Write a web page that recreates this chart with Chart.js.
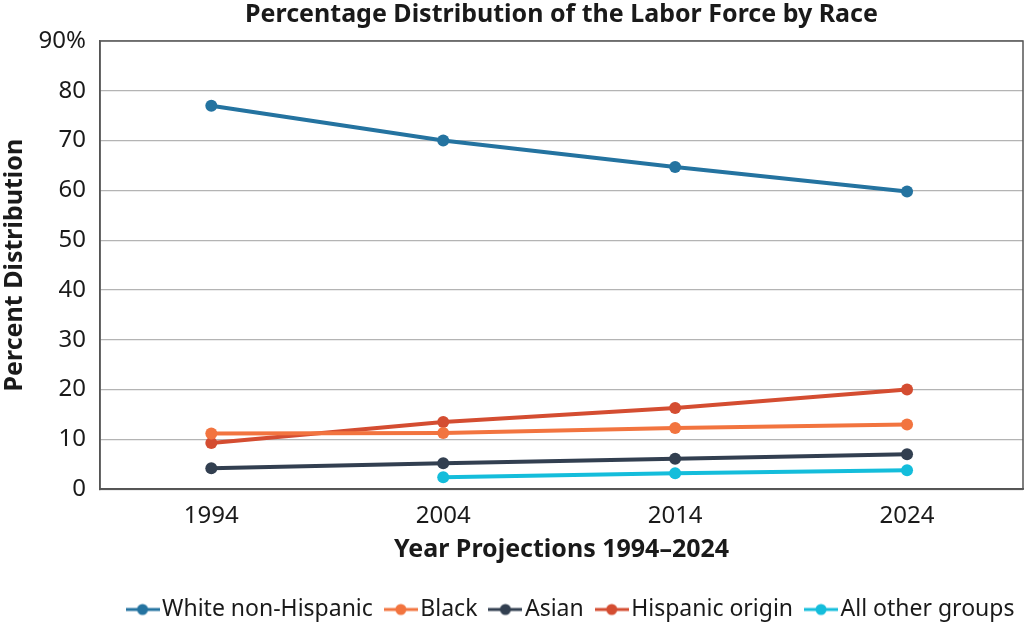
<!DOCTYPE html>
<html>
<head>
<meta charset="utf-8">
<script src="https://cdn.jsdelivr.net/npm/chart.js@4.4.0/dist/chart.umd.min.js"></script>
<style>
html,body{margin:0;padding:0;background:#fff;overflow:hidden;}
#wrap{width:1024px;height:625px;position:relative;}
#c{display:block;}
</style>
</head>
<body>
<div id="wrap"><canvas id="c" width="1024" height="625"></canvas></div>
<script>
const years = [1994, 2004, 2014, 2024];
const whiteNonHispanic = [77.0, 70.0, 64.7, 59.8];
const black = [11.2, 11.3, 12.3, 13.0];
const asian = [4.2, 5.2, 6.1, 7.0];
const hispanicOrigin = [9.3, 13.5, 16.3, 20.0];
const allOtherGroups = [null, 2.4, 3.2, 3.8];
const seriesNames = ['White non-Hispanic', 'Black', 'Asian', 'Hispanic origin', 'All other groups'];
const seriesColors = ['#2473a0', '#f2743f', '#323f50', '#d44d31', '#14bddb'];
const yTickMax = 90;

const FONT = '"Noto Sans", "Open Sans", sans-serif';

function legendIcon(color) {
  const c = document.createElement('canvas');
  c.width = 34; c.height = 14;
  const x = c.getContext('2d');
  x.strokeStyle = color; x.lineWidth = 3;
  x.beginPath(); x.moveTo(0, 7); x.lineTo(34, 7); x.stroke();
  x.fillStyle = color;
  x.beginPath(); x.arc(17, 7, 5.5, 0, Math.PI * 2); x.fill();
  return c;
}

const allSeries = [whiteNonHispanic, black, asian, hispanicOrigin, allOtherGroups];
const datasets = allSeries.map((d, i) => ({
  label: seriesNames[i],
  data: years.map((yr, j) => ({ x: yr, y: d[j] })),
  borderColor: seriesColors[i],
  backgroundColor: seriesColors[i],
  borderWidth: 4,
  pointRadius: 6,
  pointHoverRadius: 6,
  pointBorderWidth: 0,
  tension: 0,
  spanGaps: false
}));

const frame = {
  id: 'frame',
  afterLayout(chart) {
    chart.legend.left += 13;
    chart.legend.right += 13;
  },
  afterDraw(chart) {
    const a = chart.chartArea, ctx = chart.ctx;
    ctx.save();
    ctx.strokeStyle = '#555';
    ctx.lineWidth = 1.5;
    ctx.strokeRect(a.left, a.top, a.right - a.left, a.bottom - a.top);
    ctx.restore();
  }
};

new Chart(document.getElementById('c'), {
  type: 'line',
  data: { datasets },
  plugins: [frame],
  options: {
    responsive: false,
    animation: false,
    events: [],
    layout: { autoPadding: false, padding: { left: 0, right: 1, top: 0, bottom: -6 } },
    plugins: {
      title: {
        display: true,
        fullSize: false,
        text: 'Percentage Distribution of the Labor Force by Race',
        color: '#1a1a1a',
        font: { family: FONT, size: 25, weight: 'bold' },
        padding: { top: 0, bottom: 11 }
      },
      legend: {
        position: 'bottom',
        fullSize: false,
        labels: {
          color: '#1a1a1a',
          font: { family: FONT, size: 23 },
          usePointStyle: true,
          pointStyleWidth: 16,
          boxHeight: 14,
          padding: 20,
          generateLabels(chart) {
            return chart.data.datasets.map((ds, i) => ({
              text: ds.label,
              fillStyle: ds.borderColor,
              strokeStyle: ds.borderColor,
              lineWidth: 0,
              pointStyle: legendIcon(ds.borderColor),
              fontColor: '#1a1a1a',
              datasetIndex: i,
              hidden: false
            }));
          }
        }
      },
      tooltip: { enabled: false }
    },
    scales: {
      x: {
        type: 'linear',
        min: 1989.2,
        max: 2029,
        afterBuildTicks(scale) { scale.ticks = years.map(v => ({ value: v })); },
        grid: { display: false, drawTicks: false },
        border: { display: true, color: '#555', width: 1.5 },
        ticks: { color: '#1a1a1a', font: { family: FONT, size: 24 }, padding: 13, callback: v => String(v) },
        title: {
          display: true,
          text: 'Year Projections 1994–2024',
          color: '#1a1a1a',
          font: { family: FONT, size: 25, weight: 'bold' },
          padding: { top: -9, bottom: 13 }
        }
      },
      y: {
        min: 0,
        max: yTickMax,
        afterFit(scale) { scale.width = 100; },
        grid: { color: '#b4b4b4', lineWidth: 1.2, drawTicks: false },
        border: { display: true, color: '#555', width: 1.5 },
        ticks: {
          stepSize: 10,
          color: '#1a1a1a',
          font: { family: FONT, size: 24 },
          padding: 14,
          callback: v => v === yTickMax ? v + '%' : v
        },
        title: {
          display: true,
          text: 'Percent Distribution',
          color: '#1a1a1a',
          font: { family: FONT, size: 25, weight: 'bold' },
          padding: { top: 0, bottom: 0 }
        }
      }
    }
  }
});
</script>
</body>
</html>
